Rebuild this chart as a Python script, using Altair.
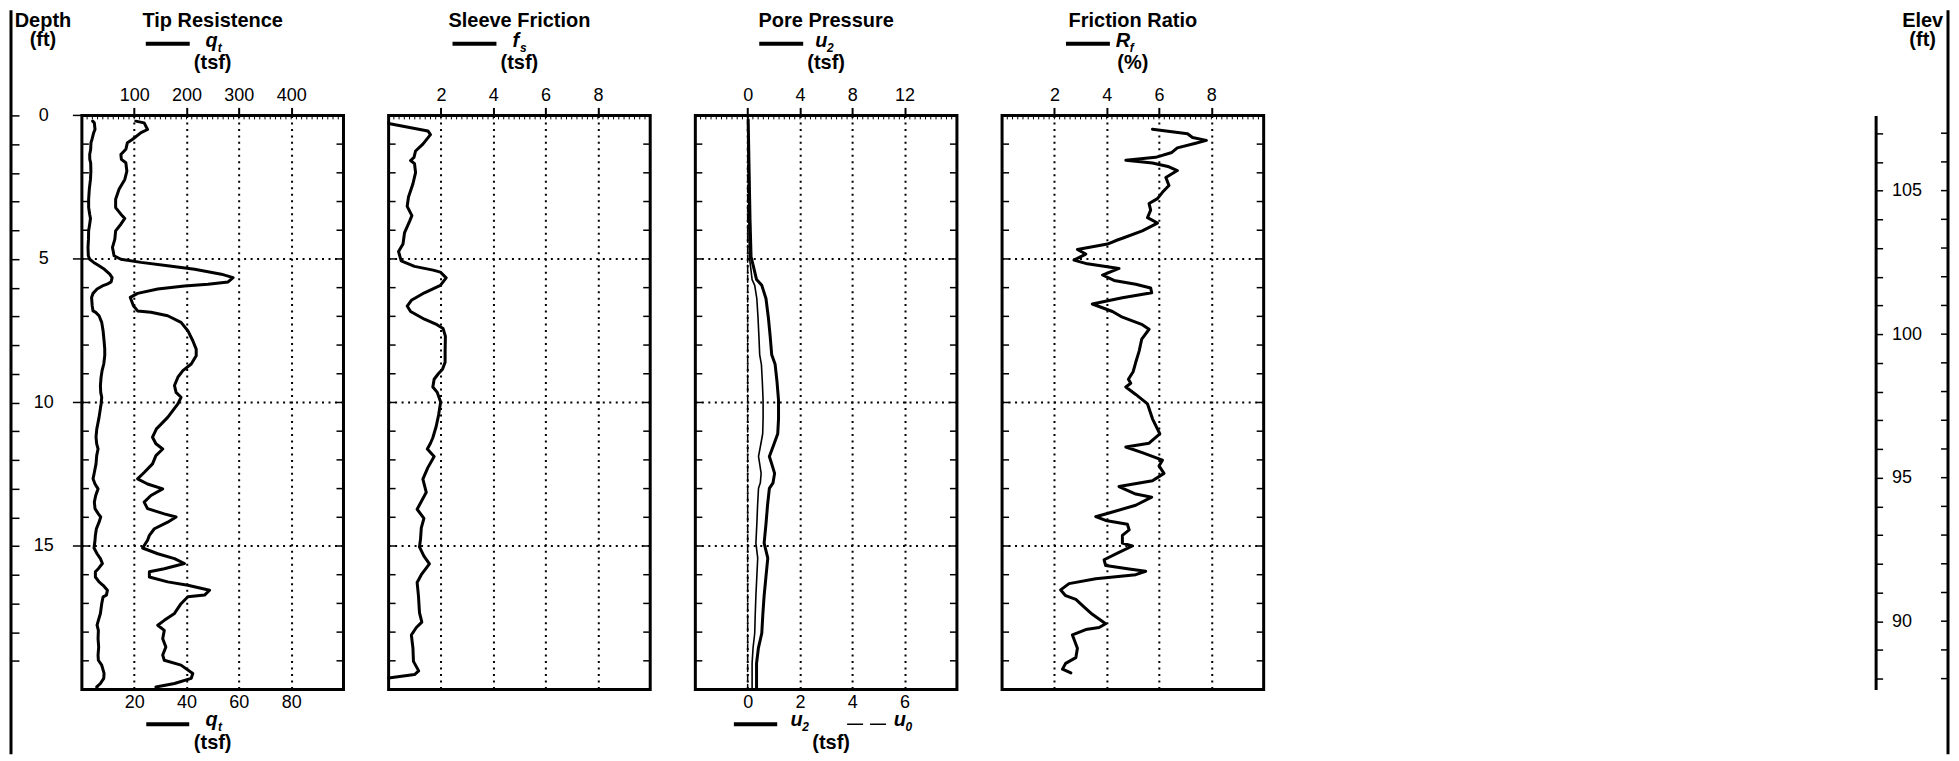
import altair as alt
import pandas as pd

FONT = "Liberation Sans"

# ------------------------------------------------------------------ data
qt_depth = [0.2, 0.26, 0.49, 0.6, 0.83, 0.95, 1.18, 1.36, 1.53, 1.65, 1.94, 2.23, 2.57, 2.92,
            3.21, 3.44, 3.59, 3.79, 4.02, 4.31, 4.6, 4.89, 5.01, 5.12, 5.24, 5.36, 5.53, 5.65,
            5.8, 5.88, 5.94, 6.05, 6.2, 6.34, 6.63, 6.81, 6.86, 6.98, 7.21, 7.5, 7.85, 8.14,
            8.37, 8.66, 8.89, 9.12, 9.41, 9.65, 9.82, 10.05, 10.52, 10.92, 11.21, 11.44, 11.62,
            11.85, 12.14, 12.44, 12.66, 12.84, 13.01, 13.24, 13.47, 13.7, 13.88, 13.99, 14.17,
            14.4, 14.63, 14.8, 15.07, 15.27, 15.44, 15.61, 15.79, 15.9, 16.08, 16.25, 16.37,
            16.54, 16.71, 16.77, 17.01, 17.35, 17.59, 17.76, 17.94, 18.23, 18.52, 18.8, 18.98,
            19.15, 19.44, 19.61, 19.79, 19.91, 20.0]
qt_tsf = [20.6, 23.8, 25.1, 22.6, 19.4, 17.4, 16.8, 14.9, 15.1, 16.8, 17.2, 16.4, 14.2, 12.9,
          12.9, 14.9, 16.4, 14.9, 12.9, 12.6, 11.7, 12.3, 14.9, 22.6, 32.8, 43.1, 53.3, 57.8,
          55.9, 48.2, 39.2, 29.0, 21.3, 18.5, 19.7, 21.3, 26.4, 32.8, 37.9, 40.5, 42.4, 43.7,
          43.7, 41.8, 38.6, 36.7, 35.4, 36.0, 37.9, 36.7, 32.8, 28.5, 27.0, 28.3, 30.9,
          28.3, 27.0, 23.8, 21.3, 25.1, 30.9, 26.4, 23.8, 25.1, 31.5, 36.0, 32.8,
          27.7, 25.8, 25.1, 23.2, 29.0, 35.4, 39.2, 31.5, 25.8, 25.8, 32.8, 40.5,
          48.8, 46.9, 40.5, 37.9, 35.4, 31.5, 29.0, 31.5, 30.9, 32.1, 30.9, 31.5,
          37.9, 42.4, 41.8, 35.4, 28.3, 30.3]

fs_depth = [0.28, 0.54, 0.67, 1.0, 1.24, 1.46, 1.57, 1.68, 1.99, 2.38, 2.84, 3.17, 3.49, 3.69,
            4.08, 4.48, 4.74, 5.07, 5.26, 5.39, 5.46, 5.66, 5.92, 6.18, 6.44, 6.64, 6.83, 7.1,
            7.29, 7.42, 7.69, 8.21, 8.6, 8.84, 9.0, 9.19, 9.46, 9.65, 9.98, 10.44, 10.83, 11.23,
            11.42, 11.62, 11.88, 12.27, 12.67, 13.13, 13.45, 13.72, 14.04, 14.37, 14.76, 15.03,
            15.35, 15.62, 16.0, 16.27, 16.73, 17.32, 17.65, 17.84, 18.1, 18.56, 19.02, 19.35,
            19.48, 19.6]
fs_tsf = [0.0, 1.5, 1.6, 1.31, 1.03, 0.97, 0.84, 0.99, 1.03, 0.93, 0.76, 0.71, 0.89, 0.8,
          0.61, 0.55, 0.38, 0.48, 0.99, 1.7, 1.98, 2.2, 1.98, 1.37, 0.87, 0.71, 0.84, 1.37,
          1.85, 2.08, 2.17, 2.16, 2.16, 2.06, 1.9, 1.74, 1.69, 1.86, 1.99, 1.91, 1.82, 1.69,
          1.6, 1.48, 1.74, 1.5, 1.31, 1.44, 1.25, 1.09, 1.35, 1.25, 1.22, 1.18,
          1.35, 1.56, 1.25, 1.09, 1.14, 1.18, 1.27, 1.06, 0.87, 0.93, 0.95, 1.15,
          0.99, 0.0]

u2_depth = [0.15, 1.66, 3.62, 4.93, 5.26, 5.72, 5.92, 6.38, 7.03, 7.69, 8.34, 8.67, 9.26, 9.92,
            10.57, 11.09, 11.49, 11.88, 12.14, 12.47, 12.8, 12.99, 13.58, 14.24, 14.9, 15.42,
            16.07, 16.73, 17.38, 18.04, 18.56, 19.09, 20.0]
u2_tsf = [0.02, 0.05, 0.09, 0.13, 0.22, 0.34, 0.54, 0.7, 0.79, 0.86, 0.92, 1.05, 1.12, 1.18,
          1.18, 1.15, 0.99, 0.83, 0.92, 1.03, 0.97, 0.83, 0.76, 0.7, 0.63, 0.77,
          0.7, 0.63, 0.58, 0.54, 0.41, 0.34, 0.34]
u0_depth = [0.0, 20.0]
u0_tsf = [0.0, 0.0]

rf_depth = [0.48, 0.64, 0.77, 0.87, 0.97, 1.13, 1.29, 1.46, 1.56, 1.66, 1.79, 1.92, 2.16, 2.44,
            2.68, 2.9, 3.07, 3.3, 3.56, 3.75, 4.02, 4.28, 4.34, 4.48, 4.67, 4.83, 5.04, 5.17,
            5.33, 5.56, 5.75, 5.88, 6.01, 6.18, 6.35, 6.57, 6.83, 7.03, 7.29, 7.45, 7.79, 8.21,
            8.6, 8.93, 9.19, 9.33, 9.46, 9.72, 10.05, 10.57, 11.09, 11.42, 11.55, 11.75, 12.01,
            12.21, 12.47, 12.73, 12.93, 13.19, 13.3, 13.58, 13.85, 13.98, 14.11, 14.24, 14.44,
            14.63, 14.9, 15.0, 15.22, 15.48, 15.68, 15.8, 15.88, 16.0, 16.14, 16.31, 16.53,
            16.73, 16.86, 17.12, 17.38, 17.71, 17.84, 17.91, 18.1, 18.56, 18.89, 19.09, 19.29,
            19.42]
rf_pct = [5.75, 7.09, 7.28, 7.81, 7.4, 6.7, 6.49, 5.87, 4.73, 5.75, 6.38, 6.7, 6.26, 6.38,
          6.13, 5.94, 5.62, 5.68, 5.56, 5.94, 5.36, 4.6, 4.41, 4.03, 2.88, 3.2, 2.75, 3.26,
          4.47, 3.84, 4.28, 5.11, 5.68, 5.72, 4.6, 3.45, 4.22, 4.6, 5.36, 5.62, 5.34, 5.24,
          5.11, 5.01, 4.83, 4.92, 4.73, 5.11, 5.56, 5.75, 6.03, 5.62, 4.73, 5.36, 6.13,
          6.0, 6.19, 5.75, 4.47, 5.11, 5.72, 5.11, 4.09, 3.58, 3.96, 4.79, 4.86,
          4.6, 4.6, 4.98, 4.47, 3.9, 3.96, 4.86, 5.49, 5.11, 3.58, 2.56, 2.24,
          2.43, 2.82, 3.13, 3.45, 3.96, 3.71, 3.2, 2.69, 2.88, 2.82, 2.43, 2.31,
          2.63]

depth_axis_ticks = list(range(0, 20))
frame_ticks = list(range(1, 20))
major_depths = [0, 5, 10, 15]
grid_depths = [5, 10, 15]
ground_elev = 107.62
elev_ticks = list(range(88, 108))

tip_top_ticks = [100, 200, 300, 400]
tip_bottom_ticks = [20, 40, 60, 80]
fs_ticks = [2, 4, 6, 8]
u_top_ticks = [0, 4, 8, 12]
u_bottom_ticks = [0, 2, 4, 6]
rf_ticks = [2, 4, 6, 8]

tip_minor = [10 * i for i in range(1, 50)]
ten_minor = [round(0.2 * i, 2) for i in range(1, 50)]
u_minor = [round(-4 + 0.4 * i, 2) for i in range(1, 50)]

# ------------------------------------------------------------------ layout
W = 262
H = 575
SP = 45.2
DASH = [2, 4.5]
ONE = pd.DataFrame({"a": [0]})


def sc(domain, reverse=False):
    return alt.Scale(domain=domain, nice=False, zero=False, reverse=reverse)


def ydepth(axis=None):
    return alt.Y("d:Q", scale=sc([0, 20], reverse=True), axis=axis)


def top_axis(vals):
    return alt.Axis(orient="top", values=vals, grid=True, gridDash=DASH, gridColor="black",
                    gridWidth=2, gridOpacity=1, domain=False, ticks=True, tickSize=8,
                    tickWidth=2, tickColor="black", labelFont=FONT, labelFontSize=18,
                    labelColor="black", labelBaseline="alphabetic", labelPadding=6.5,
                    labelFlush=False, labelOverlap=False, title=None)


def bottom_axis(vals):
    return alt.Axis(orient="bottom", values=vals, grid=False, domain=False, ticks=True,
                    tickSize=0, tickOpacity=0, labelFont=FONT, labelFontSize=18,
                    labelColor="black", labelBaseline="alphabetic", labelPadding=18.5,
                    labelFlush=False, labelOverlap=False, title=None)


def frame_layers(minor_vals, xdomain):
    g = alt.Chart(pd.DataFrame({"d": grid_depths})).mark_rule(
        color="black", strokeWidth=2, strokeDash=DASH).encode(
        y=ydepth(), x=alt.value(0), x2=alt.value(W))
    tdf = pd.DataFrame({"d": frame_ticks})
    tl = alt.Chart(tdf).mark_rule(color="black", strokeWidth=1.5).encode(
        y=ydepth(), x=alt.value(0), x2=alt.value(7))
    tr = alt.Chart(tdf).mark_rule(color="black", strokeWidth=1.5).encode(
        y=ydepth(), x=alt.value(W - 7), x2=alt.value(W))
    mn = alt.Chart(pd.DataFrame({"v": minor_vals})).mark_rule(color="black", strokeWidth=1).encode(
        x=alt.X("v:Q", scale=sc(xdomain), axis=None), y=alt.value(0), y2=alt.value(4))
    return [g, tl, tr, mn]


def curve(depths, vals, xdomain, axis=None, width=3.0, dash=None, yaxis=None):
    df = pd.DataFrame({"d": depths, "v": vals})
    kw = dict(color="black", strokeWidth=width, strokeJoin="round", strokeCap="round")
    if dash:
        kw["strokeDash"] = dash
    return alt.Chart(df).mark_line(**kw).encode(
        x=alt.X("v:Q", scale=sc(xdomain), axis=axis),
        y=ydepth(yaxis),
        order="d:Q")


def txt(s, x, y, size=20, bold=True, italic=False, align="center"):
    return alt.Chart(pd.DataFrame({"t": [s]})).mark_text(
        align=align, baseline="alphabetic", font=FONT, fontSize=size,
        fontWeight="bold" if bold else "normal",
        fontStyle="italic" if italic else "normal", color="black").encode(
        x=alt.value(x), y=alt.value(y), text="t:N")


def hline(x1, x2, y, width=4, dash=None):
    kw = dict(color="black", strokeWidth=width)
    if dash:
        kw["strokeDash"] = dash
    return alt.Chart(ONE).mark_rule(**kw).encode(x=alt.value(x1), x2=alt.value(x2), y=alt.value(y))


def vbar(x1, x2, y1, y2):
    # filled bar without stroke, so its bounds are exact
    return alt.Chart(ONE).mark_rect(color="black", strokeWidth=0).encode(
        x=alt.value(x1), x2=alt.value(x2), y=alt.value(y1), y2=alt.value(y2))


TITLE_Y = -88.3
FT_Y = -69.8
LEG_Y = -71.8
SYM_Y = -69
SUB_Y = -63.8
UNIT_Y = -46
BOT_LEG_Y = 609.8
BOT_SYM_Y = 611.8
BOT_SUB_Y = 616.8
BOT_UNIT_Y = 635
TOP_EDGE = -105.3
BOT_EDGE = 639.7


def header(title, sym, sub, sym_x, sub_x, unit):
    return [
        txt(title, W / 2, TITLE_Y),
        hline(64, 108, LEG_Y),
        txt(sym, sym_x, SYM_Y, italic=True, align="left"),
        txt(sub, sub_x, SUB_Y, size=12, italic=True, align="left"),
        txt(unit, 131, UNIT_Y),
    ]


depth_axis = alt.Axis(orient="right", offset=-(W + 71), values=depth_axis_ticks,
                      labelExpr="datum.value % 5 == 0 ? datum.label : ''",
                      tickSize=8, tickWidth=1.5, tickColor="black", domain=False, grid=False,
                      labelAlign="center", labelBaseline="middle", labelPadding=24.4,
                      labelFont=FONT, labelFontSize=18, labelColor="black", title=None,
                      labelOverlap=False, labelFlush=False)

# ---- Tip resistance panel
tip_layers = frame_layers(tip_minor, [0, 500]) + [
    curve(qt_depth, qt_tsf, [0, 500], axis=top_axis(tip_top_ticks), yaxis=depth_axis),
    curve(qt_depth, qt_tsf, [0, 100], axis=bottom_axis(tip_bottom_ticks)),
    alt.Chart(pd.DataFrame({"d": major_depths})).mark_rule(color="black", strokeWidth=1.5).encode(
        y=ydepth(), x=alt.value(-9), x2=alt.value(0)),
    vbar(-72.5, -69.5, TOP_EDGE, BOT_EDGE),
    txt("Depth", -39, TITLE_Y),
    txt("(ft)", -39, FT_Y),
] + header("Tip Resistence", "q", "t", 123.7, 136, "(tsf)") + [
    hline(64.5, 107.5, BOT_LEG_Y),
    txt("q", 123.7, BOT_SYM_Y, italic=True, align="left"),
    txt("t", 136.2, BOT_SUB_Y, size=12, italic=True, align="left"),
    txt("(tsf)", 131, BOT_UNIT_Y),
]
tip = alt.layer(*tip_layers).resolve_scale(x="independent", y="independent").properties(width=W, height=H)

# ---- Sleeve friction panel
fs_layers = frame_layers(ten_minor, [0, 10]) + [
    curve(fs_depth, fs_tsf, [0, 10], axis=top_axis(fs_ticks)),
] + header("Sleeve Friction", "f", "s", 124.2, 131.6, "(tsf)")
fs = alt.layer(*fs_layers).resolve_scale(x="independent", y="independent").properties(width=W, height=H)

# ---- Pore pressure panel
pore_layers = frame_layers(u_minor, [-4, 16]) + [
    curve(u0_depth, u0_tsf, [-2, 8], width=1.5, dash=[7, 3]),
    curve(u2_depth, u2_tsf, [-4, 16], axis=top_axis(u_top_ticks), width=1.6),
    curve(u2_depth, u2_tsf, [-2, 8], axis=bottom_axis(u_bottom_ticks), width=3),
] + header("Pore Pressure", "u", "2", 120.1, 131.8, "(tsf)") + [
    hline(38.6, 82, BOT_LEG_Y),
    txt("u", 95.3, BOT_SYM_Y, italic=True, align="left"),
    txt("2", 107, BOT_SUB_Y, size=12, italic=True, align="left"),
    hline(152, 194, BOT_LEG_Y, width=1.5, dash=[16, 7]),
    txt("u", 198.6, BOT_SYM_Y, italic=True, align="left"),
    txt("0", 210.5, BOT_SUB_Y, size=12, italic=True, align="left"),
    txt("(tsf)", 136, BOT_UNIT_Y),
]
pore = alt.layer(*pore_layers).resolve_scale(x="independent", y="independent").properties(width=W, height=H)

# ---- Friction ratio panel + elevation axis
elev_axis = alt.Axis(orient="right", offset=612.9, values=elev_ticks,
                     labelExpr="datum.value % 5 == 0 ? datum.label : ''",
                     tickSize=7, tickWidth=1.5, tickColor="black", domain=True, domainWidth=3,
                     domainColor="black", grid=False, labelAlign="left", labelBaseline="middle",
                     labelPadding=9, labelFont=FONT, labelFontSize=18, labelColor="black",
                     title=None, labelOverlap=False, labelFlush=False)
RIGHT_X = 947.4
rf_layers = frame_layers(ten_minor, [0, 10]) + [
    curve(rf_depth, rf_pct, [0, 10], axis=top_axis(rf_ticks)),
    alt.Chart(pd.DataFrame({"e": elev_ticks})).mark_rule(color="black", strokeWidth=1.5).encode(
        y=alt.Y("e:Q", scale=sc([ground_elev - 20, ground_elev]), axis=elev_axis),
        x=alt.value(RIGHT_X - 7), x2=alt.value(RIGHT_X)),
    vbar(RIGHT_X - 1.5, RIGHT_X + 1.5, TOP_EDGE, BOT_EDGE),
    txt("Elev", 922, TITLE_Y),
    txt("(ft)", 922, FT_Y),
] + header("Friction Ratio", "R", "f", 113.9, 127.9, "(%)")
rf = alt.layer(*rf_layers).resolve_scale(x="independent", y="independent").properties(width=W, height=H)

chart = alt.HConcatChart(hconcat=[tip, fs, pore, rf], spacing=SP, bounds="flush", padding=0)
chart = chart.configure_view(stroke="black", strokeWidth=3)

chart.save("out.html", embed_options={"renderer": "svg", "actions": False})
